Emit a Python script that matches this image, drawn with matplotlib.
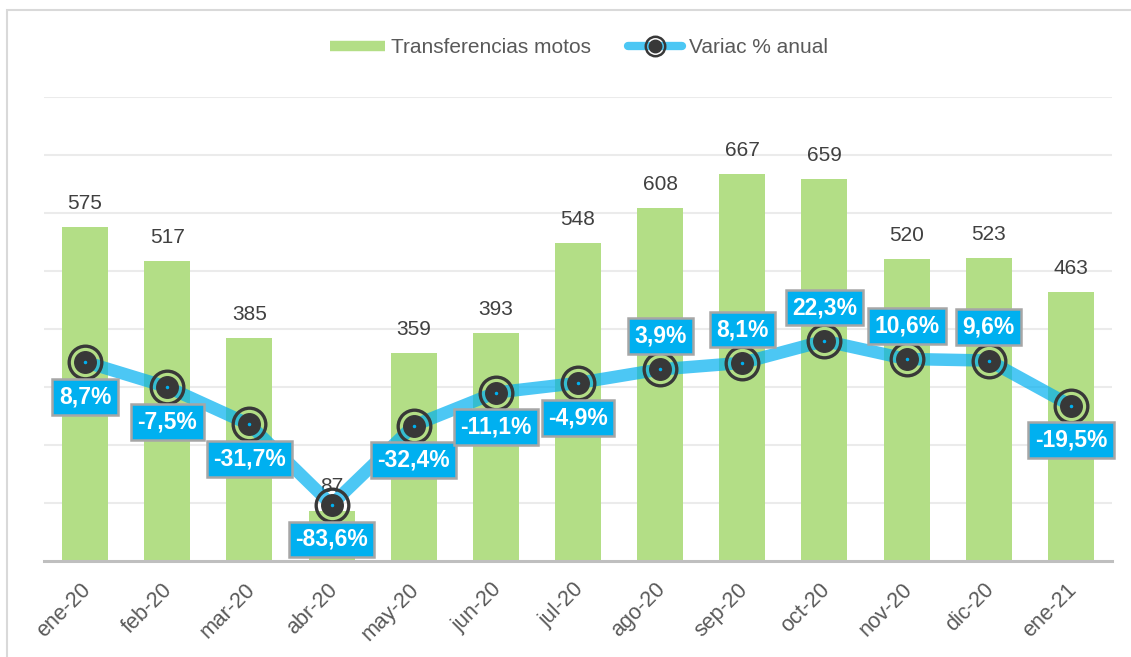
import matplotlib.pyplot as plt
from matplotlib.lines import Line2D
from matplotlib.patches import Rectangle
from matplotlib.transforms import ScaledTranslation

plt.rcParams['font.family'] = ['Liberation Sans', 'DejaVu Sans']

# data
months = ["ene-20", "feb-20", "mar-20", "abr-20", "may-20", "jun-20", "jul-20",
          "ago-20", "sep-20", "oct-20", "nov-20", "dic-20", "ene-21"]
transfers = [575, 517, 385, 87, 359, 393, 548, 608, 667, 659, 520, 523, 463]
variac = [8.7, -7.5, -31.7, -83.6, -32.4, -11.1, -4.9, 3.9, 8.1, 22.3, 10.6, 9.6, -19.5]
var_labels = ["8,7%", "-7,5%", "-31,7%", "-83,6%", "-32,4%", "-11,1%", "-4,9%",
              "3,9%", "8,1%", "22,3%", "10,6%", "9,6%", "-19,5%"]

GREEN = '#B3DE86'
BLUE = '#00B0F0'
DARK = '#383838'

fig = plt.figure(figsize=(11.31, 6.57), dpi=100)
ax = fig.add_axes([0.0389, 0.1461, 0.9443, 0.7063])
x = list(range(len(months)))

ax.bar(x, transfers, width=0.56, color=GREEN, zorder=2)
for i, v in enumerate(transfers):
    ax.annotate(str(v), (i, v), xytext=(0, 17), textcoords='offset points',
                ha='center', va='center', fontsize=15, color='#404040')

ax.set_xlim(-0.5, len(months) - 0.5)
ax.set_ylim(0, 800)
ax.set_yticks(range(100, 801, 100))
ax.yaxis.grid(True, color='#EBEBEB', lw=1.5, zorder=0)
ax.set_axisbelow(True)
ax.set_xticks(x)
ax.set_xticklabels(months, rotation=45, ha='right', rotation_mode='anchor',
                   fontsize=15.5, color='#595959')
for s in ['top', 'right', 'left']:
    ax.spines[s].set_visible(False)
ax.spines['bottom'].set_color('#BFBFBF')
ax.spines['bottom'].set_linewidth(2.2)
ax.spines['bottom'].set_zorder(3)

# secondary axis for the line
ax2 = ax.twinx()
ax2.set_ylim(-120, 180)
ax2.axis('off')
ax.tick_params(axis='y', left=False, labelleft=False, right=False, labelright=False)
ax.tick_params(axis='x', length=0, pad=13)
shift = ScaledTranslation(-5 / 100, 0, fig.dpi_scale_trans)
for lbl in ax.get_xticklabels():
    lbl.set_transform(lbl.get_transform() + shift)

ax2.plot(x, variac, color=BLUE, alpha=0.7, lw=9, solid_capstyle='round',
         solid_joinstyle='round', zorder=3)
ax2.plot(x, variac, ls='none', marker='o', ms=23.5, mfc='none', mec=DARK, mew=2.4, zorder=4)
ax2.plot(x, variac, ls='none', marker='o', ms=15.5, mfc=DARK, mec=DARK, zorder=5)
ax2.plot(x, variac, ls='none', marker='o', ms=1.5, mfc=BLUE, mec=BLUE, zorder=6)

above = {7, 8, 9, 10, 11}
for i, (v, t) in enumerate(zip(variac, var_labels)):
    dy = 24 if i in above else -25
    ax2.annotate(t, (i, v), xytext=(0, dy), textcoords='offset points',
                 ha='center', va='center', fontsize=16.5, fontweight='bold', color='white',
                 bbox=dict(boxstyle='square,pad=0.28', fc=BLUE, ec='#A6A6A6', lw=1.8),
                 zorder=7)

# legend
h_bar = Line2D([], [], color=GREEN, lw=7.5, solid_capstyle='butt')
h_line = (Line2D([], [], color=BLUE, alpha=0.7, lw=6, solid_capstyle='round'),
          Line2D([], [], ls='none', marker='o', ms=14, mfc='none', mec=DARK, mew=1.8),
          Line2D([], [], ls='none', marker='o', ms=9, mfc=DARK, mec=DARK))
fig.legend([h_bar, h_line], ["Transferencias motos", "Variac % anual"],
           loc='center', bbox_to_anchor=(0.512, 0.927), ncol=2, frameon=False,
           fontsize=15, labelcolor='#595959', handlelength=2.6, handletextpad=0.3,
           columnspacing=1.8, numpoints=1)

# outer chart frame
fig.patches.append(Rectangle((7 / 1131, -0.1), 1.2, 1.0848, transform=fig.transFigure,
                             fill=False, ec='#D9D9D9', lw=1.5))

fig.savefig('out.png', dpi=100)
